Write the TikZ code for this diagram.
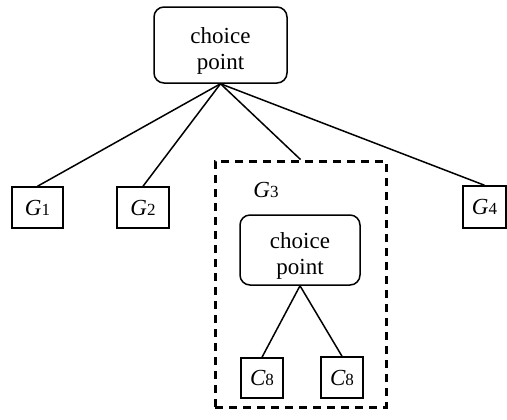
\documentclass[tikz,border=0pt]{standalone}
\usepackage{fontspec}
\setmainfont{Liberation Serif}
\newcommand{\lbl}[2]{{\itshape #1}{\fontsize{8.5}{8.5}\selectfont #2}}
% two-line label; the strut adds room above so the text sits a little low
\newcommand{\cptext}{\begin{tabular}{@{}c@{}}\rule{0pt}{15pt}choice\\point\end{tabular}}
\begin{document}
\begin{tikzpicture}[x=0.5pt,y=-0.5pt,
  box/.style={draw,line width=0.75pt,inner sep=0pt,font=\fontsize{11.5}{13}\selectfont},
  choicebox/.style={box,rounded corners=5pt},
  edge/.style={line width=0.75pt}]
\useasboundingbox (0,0) rectangle (507,419);
% top-level choice point
\node[choicebox,minimum width=66.5pt,minimum height=38pt] (top) at (220.5,45) {\cptext};
% goals
\node[box,minimum width=25.5pt,minimum height=20.5pt] (g1) at (37.5,207.5) {\lbl{G}{1}};
\node[box,minimum width=26pt,minimum height=20.5pt] (g2) at (143,207.5) {\lbl{G}{2}};
\node[box,minimum width=21.5pt,minimum height=21pt] (g4) at (484.5,207) {\lbl{G}{4}};
% expanded goal G3
\node[draw,line width=1.5pt,dash pattern=on 4pt off 3pt,inner sep=0pt,
      minimum width=85.5pt,minimum height=123pt] (g3) at (300.5,284) {};
\node[font=\fontsize{11.5}{13}\selectfont] (g3lbl) at (266,190) {\lbl{G}{3}};
\node[choicebox,minimum width=60pt,minimum height=35pt] (inner) at (300,250) {\cptext};
\node[box,minimum width=21pt,minimum height=20pt] (c1) at (262,378) {\lbl{C}{8}};
\node[box,minimum width=21pt,minimum height=20.5pt] (c2) at (342,377.5) {\lbl{C}{8}};
% connectors
\draw[edge] (top.south) -- (g1.north);
\draw[edge] (top.south) -- (g2.north);
\draw[edge] (top.south) -- (g3.north);
\draw[edge] (top.south) -- (g4.north);
\draw[edge] (inner.south) -- (c1.north);
\draw[edge] (inner.south) -- (c2.north);
\end{tikzpicture}
\end{document}
